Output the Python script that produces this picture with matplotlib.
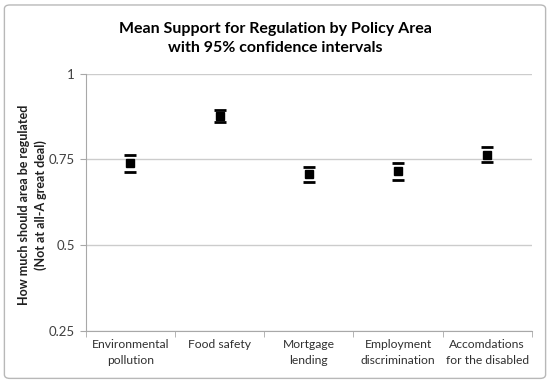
import matplotlib
matplotlib.use("Agg")
import matplotlib.pyplot as plt
from matplotlib.patches import FancyBboxPatch
import numpy as np

categories = ["Environmental\npollution", "Food safety", "Mortgage\nlending",
              "Employment\ndiscrimination", "Accomdations\nfor the disabled"]
means = [0.740, 0.877, 0.706, 0.715, 0.762]
upper = [0.762, 0.894, 0.728, 0.740, 0.786]
lower = [0.712, 0.859, 0.684, 0.689, 0.741]
yticks = [0.25, 0.5, 0.75, 1.0]
yticklabels = ["0.25", "0.5", "0.75", "1"]

plt.rcParams['font.family'] = ['Lato', 'DejaVu Sans']

fig = plt.figure(figsize=(5.5, 3.83), dpi=100)
border = FancyBboxPatch((0.008, 0.012), 0.984, 0.975, boxstyle="round,pad=0,rounding_size=0.01",
                        transform=fig.transFigure, fill=False, edgecolor="#b8b8b8", linewidth=1.0)
fig.patches.append(border)

ax = fig.add_axes([0.156, 0.1365, 0.811, 0.6715])
x = np.arange(len(categories))
means_a = np.array(means)
yerr = [means_a - np.array(lower), np.array(upper) - means_a]
ax.errorbar(x, means, yerr=yerr, fmt='s', color='black', markersize=5.5,
            elinewidth=0, capsize=4.5, capthick=2, zorder=3)

ax.set_xlim(-0.5, len(categories) - 0.5)
ax.set_ylim(0.25, 1.0)
ax.set_yticks(yticks)
ax.set_yticklabels(yticklabels, fontsize=9.5, color="#404040")
ax.yaxis.grid(True, color="#cccccc", linewidth=1)
ax.set_axisbelow(True)

ax.set_xticks(x)
ax.set_xticklabels(categories, fontsize=8.7, color="#303030", linespacing=1.6)
ax.tick_params(axis='x', length=0, pad=6)
ax.set_xticks(np.arange(-0.5, len(categories), 1.0), minor=True)
ax.tick_params(axis='x', which='minor', length=4, color="#a8a8a8")
ax.tick_params(axis='y', length=4, color="#a8a8a8", pad=4)

for s in ['top', 'right']:
    ax.spines[s].set_visible(False)
for s in ['left', 'bottom']:
    ax.spines[s].set_color("#a8a8a8")

ax.set_ylabel("How much should area be regulated\n(Not at all-A great deal)", fontsize=9.0,
              fontweight='bold', color="#202020", linespacing=1.45)
ax.yaxis.set_label_coords(-0.086, 0.49)

fig.text(0.5, 0.90, "Mean Support for Regulation by Policy Area\nwith 95% confidence intervals",
         ha='center', va='center', fontsize=11.5, fontweight='bold', linespacing=1.45)

fig.savefig("out.png", dpi=100)
